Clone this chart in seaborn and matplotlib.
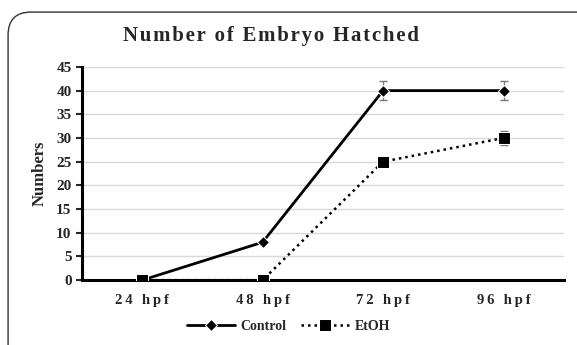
import numpy as np
import pandas as pd
import matplotlib.pyplot as plt
import seaborn as sns
from matplotlib.patches import FancyBboxPatch

sns.set_style("white")
plt.rcParams['font.family'] = ['Liberation Serif', 'DejaVu Serif']

# dados
stages = ["24 hpf", "48 hpf", "72 hpf", "96 hpf"]
control = [0, 8, 40, 40]
control_err = [0, 0, 2, 2]
etoh = [0, 0, 25, 30]
etoh_err = [0, 0, 1, 1.5]

df = pd.DataFrame({
    "stage": stages * 2,
    "value": control + etoh,
    "group": ["Control"] * 4 + ["EtOH"] * 4,
})

def spaced(s, sp="\u200a"):
    return sp.join(s)

fig = plt.figure(figsize=(5.77, 3.45), dpi=100)
ax = fig.add_axes([0.142, 0.188, 0.835, 0.618])

# moldura arredondada
frame = FancyBboxPatch((0.014, -0.1), 1.1, 1.065, boxstyle="round,pad=0,rounding_size=0.04",
                       transform=fig.transFigure, fill=False, edgecolor="#333333", linewidth=1.0,
                       mutation_aspect=577 / 345)
fig.patches.append(frame)

x = np.arange(len(stages))
ax.errorbar(x, control, yerr=control_err, fmt="none", ecolor="#777777", elinewidth=0.9, capsize=3, zorder=2)
ax.errorbar(x, etoh, yerr=etoh_err, fmt="none", ecolor="#777777", elinewidth=0.9, capsize=3, zorder=2)

sns.lineplot(data=df[df.group == "Control"], x="stage", y="value", ax=ax, color="black",
             marker="D", markersize=6, linewidth=2, label="Control", zorder=3)
sns.lineplot(data=df[df.group == "EtOH"], x="stage", y="value", ax=ax, color="black",
             marker="s", markersize=8, linewidth=1.8, linestyle=(0, (1, 1.6)), label="EtOH", zorder=3)

ax.set_xlim(-0.5, 3.5)
ax.set_ylim(0, 45)
ax.set_yticks(range(0, 46, 5))
ax.set_xticks(x)
ax.set_xticklabels([spaced(s, "\u2009") for s in stages], fontsize=10.5, fontweight="bold")
ax.tick_params(axis="y", labelsize=11, length=4, width=1.5, direction="out", left=True)
ax.tick_params(axis="x", length=0, pad=10)
for lab in ax.get_yticklabels():
    lab.set_fontweight("bold")

ax.grid(axis="y", color="#d9d9d9", linewidth=1)
ax.set_axisbelow(True)
sns.despine(ax=ax, top=True, right=True)
ax.spines["left"].set_linewidth(2.2)
ax.spines["bottom"].set_linewidth(2.2)
ax.spines["left"].set_color("black")
ax.spines["bottom"].set_color("black")

ax.set_xlabel("")
ax.set_ylabel("Numbers", fontsize=12, fontweight="bold", labelpad=6)
fig.text(0.47, 0.895, spaced("Number of Embryo Hatched"), ha="center", va="center",
         fontsize=15, fontweight="bold")

leg = ax.legend(loc="center", bbox_to_anchor=(0.5, 0.055), bbox_transform=fig.transFigure,
                ncol=2, frameon=False,
                prop={"family": "Liberation Serif", "weight": "bold", "size": 10},
                handlelength=3.5, columnspacing=1.0, handletextpad=0.4)

fig.savefig("out.png", dpi=100)
